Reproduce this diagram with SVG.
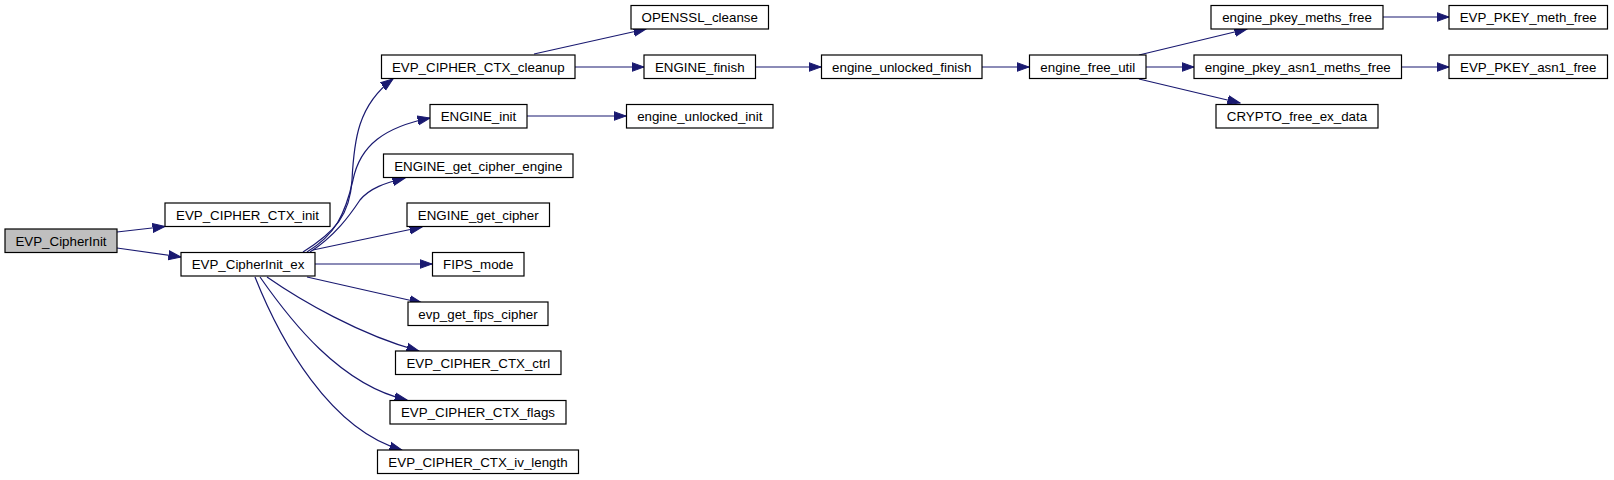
<svg xmlns="http://www.w3.org/2000/svg" width="1614" height="480" viewBox="0 0 1614 480">
<style>
  .n rect { fill: #ffffff; stroke: #000000; stroke-width: 1.2; }
  .n.root rect { fill: #bfbfbf; }
  .n text { font-family: "Liberation Sans", Arial, sans-serif; font-size: 13.33px; fill: #000000; text-anchor: middle; }
  #edges path { fill: none; stroke: #191970; stroke-width: 1.2; marker-end: url(#arr); }
</style>
<defs>
  <marker id="arr" markerUnits="userSpaceOnUse" markerWidth="14" markerHeight="12" viewBox="0 -6 14 12" refX="12.5" refY="0" orient="auto">
    <path d="M0,-4.5 L12.5,0 L0,4.5 z" fill="#191970" stroke="#191970" stroke-width="1"/>
  </marker>
</defs>
<rect width="1614" height="480" fill="#ffffff"/>
<g id="edges">
  <path d="M117,232 L165,226.5"/>
  <path d="M117,248 L181,257"/>
  <path d="M303,252 C335,232 350,215 352,180 C354,140 358,105 393,79"/>
  <path d="M307,252 C335,235 345,215 353,180 C360,145 385,127 430,118"/>
  <path d="M310,252 C335,236 350,215 360,200 C370,188 385,183 405,178"/>
  <path d="M313,250 L422,227"/>
  <path d="M315,264 L432,264"/>
  <path d="M307,277 L422,303"/>
  <path d="M267,277 C300,300 360,335 419,351"/>
  <path d="M260,277 C290,320 340,385 407,400"/>
  <path d="M255,277 C280,340 330,430 402,450"/>
  <path d="M534,54 L646,29"/>
  <path d="M575,67 L644,67"/>
  <path d="M527,116 L626,116"/>
  <path d="M756,67 L821,67"/>
  <path d="M982,67 L1029,67"/>
  <path d="M1139,55 L1247,29"/>
  <path d="M1146,67 L1194,67"/>
  <path d="M1139,79 L1240,103"/>
  <path d="M1383,17 L1449,17"/>
  <path d="M1401.5,67 L1449,67"/>
</g>
<g id="node_EVP_CipherInit" class="n root"><rect x="5" y="229" width="112" height="23.5"/><text x="61" y="245.5">EVP_CipherInit</text></g>
<g id="node_EVP_CIPHER_CTX_init" class="n"><rect x="165" y="203" width="165" height="23.5"/><text x="247.5" y="219.5">EVP_CIPHER_CTX_init</text></g>
<g id="node_EVP_CipherInit_ex" class="n"><rect x="181" y="252.5" width="134" height="23.5"/><text x="248" y="269">EVP_CipherInit_ex</text></g>
<g id="node_EVP_CIPHER_CTX_cleanup" class="n"><rect x="381.5" y="55" width="193.5" height="23.5"/><text x="478.25" y="71.5">EVP_CIPHER_CTX_cleanup</text></g>
<g id="node_ENGINE_init" class="n"><rect x="430" y="104.5" width="97" height="23.5"/><text x="478.5" y="121">ENGINE_init</text></g>
<g id="node_ENGINE_get_cipher_engine" class="n"><rect x="383.5" y="154" width="189.5" height="23.5"/><text x="478.25" y="170.5">ENGINE_get_cipher_engine</text></g>
<g id="node_ENGINE_get_cipher" class="n"><rect x="407" y="203" width="142.5" height="23.5"/><text x="478.25" y="219.5">ENGINE_get_cipher</text></g>
<g id="node_FIPS_mode" class="n"><rect x="432.5" y="252.5" width="91.5" height="23.5"/><text x="478.25" y="269">FIPS_mode</text></g>
<g id="node_evp_get_fips_cipher" class="n"><rect x="408" y="302" width="140" height="23.5"/><text x="478" y="318.5">evp_get_fips_cipher</text></g>
<g id="node_EVP_CIPHER_CTX_ctrl" class="n"><rect x="395.5" y="351" width="165.5" height="23.5"/><text x="478.25" y="367.5">EVP_CIPHER_CTX_ctrl</text></g>
<g id="node_EVP_CIPHER_CTX_flags" class="n"><rect x="390" y="400.5" width="176" height="23.5"/><text x="478" y="417">EVP_CIPHER_CTX_flags</text></g>
<g id="node_EVP_CIPHER_CTX_iv_length" class="n"><rect x="377.5" y="450" width="201" height="23.5"/><text x="478" y="466.5">EVP_CIPHER_CTX_iv_length</text></g>
<g id="node_OPENSSL_cleanse" class="n"><rect x="631" y="5.5" width="137.5" height="23.5"/><text x="699.75" y="22">OPENSSL_cleanse</text></g>
<g id="node_ENGINE_finish" class="n"><rect x="644" y="55" width="111.5" height="23.5"/><text x="699.75" y="71.5">ENGINE_finish</text></g>
<g id="node_engine_unlocked_init" class="n"><rect x="626.5" y="104.5" width="146.5" height="23.5"/><text x="699.75" y="121">engine_unlocked_init</text></g>
<g id="node_engine_unlocked_finish" class="n"><rect x="821.5" y="55" width="160.5" height="23.5"/><text x="901.75" y="71.5">engine_unlocked_finish</text></g>
<g id="node_engine_free_util" class="n"><rect x="1029.5" y="55" width="116.5" height="23.5"/><text x="1087.75" y="71.5">engine_free_util</text></g>
<g id="node_engine_pkey_meths_free" class="n"><rect x="1211" y="5.5" width="172" height="23.5"/><text x="1297" y="22">engine_pkey_meths_free</text></g>
<g id="node_engine_pkey_asn1_meths_free" class="n"><rect x="1194" y="55" width="207.5" height="23.5"/><text x="1297.75" y="71.5">engine_pkey_asn1_meths_free</text></g>
<g id="node_CRYPTO_free_ex_data" class="n"><rect x="1216" y="104.5" width="162" height="23.5"/><text x="1297" y="121">CRYPTO_free_ex_data</text></g>
<g id="node_EVP_PKEY_meth_free" class="n"><rect x="1449" y="5.5" width="158.5" height="23.5"/><text x="1528.25" y="22">EVP_PKEY_meth_free</text></g>
<g id="node_EVP_PKEY_asn1_free" class="n"><rect x="1449" y="55" width="158.5" height="23.5"/><text x="1528.25" y="71.5">EVP_PKEY_asn1_free</text></g>
</svg>
